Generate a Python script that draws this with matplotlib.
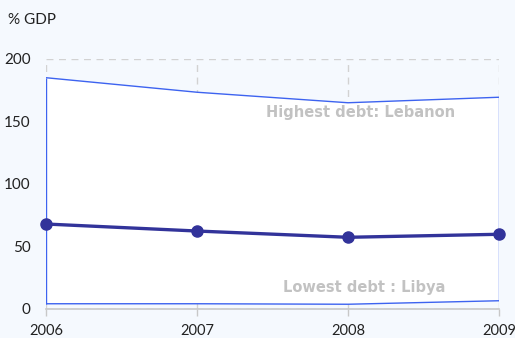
import matplotlib
matplotlib.use('Agg')
import matplotlib.pyplot as plt

# Dette publique (% du PIB) - région MENA
years = [2006, 2007, 2008, 2009]
highest = [184.8, 173.2, 164.8, 169.2]   # Liban
lowest = [4.2, 4.2, 3.8, 6.6]            # Libye
average = [67.9, 62.3, 57.3, 59.7]
y_ticks = [0, 50, 100, 150, 200]

BG = '#f5f9fe'
BAND_EDGE = '#3d63f0'
MEAN_COLOR = '#32339a'
GRID = '#d2d2d2'
NOTE = '#c2c2c2'

plt.rcParams['font.family'] = ['Lato', 'DejaVu Sans']

fig = plt.figure(figsize=(5.15, 3.38), dpi=100, facecolor=BG)
ax = fig.add_axes([46 / 515, 1 - 309 / 338, 453 / 515, 250.3 / 338])
ax.set_facecolor(BG)

# grille pointillée (cachée sous la bande)
for y in y_ticks:
    ax.axhline(y, color=GRID, lw=1, ls=(0, (5, 4)), zorder=0)
for x in years:
    ax.axvline(x, color=GRID, lw=1, ls=(0, (5, 4)), zorder=0)

# bande min / max
ax.fill_between(years, lowest, highest, facecolor='white', edgecolor='none', zorder=1)
ax.plot(years, highest, color=BAND_EDGE, lw=1, zorder=2)
ax.plot(years, lowest, color=BAND_EDGE, lw=1, zorder=2)
ax.vlines([years[0], years[-1]], [lowest[0], lowest[-1]], [highest[0], highest[-1]],
          color=BAND_EDGE, lw=1, zorder=2)

# moyenne
ax.plot(years, average, color=MEAN_COLOR, lw=2.4, marker='o', ms=8,
        zorder=4, clip_on=False)

note_font = dict(color=NOTE, fontsize=10.5, fontweight='bold',
                 family='DejaVu Sans', ha='center', va='center', zorder=3)
ax.text(2008.08, 157, 'Highest debt: Lebanon', **note_font)
ax.text(2008.11, 17.5, 'Lowest debt : Libya', **note_font)

ax.set_xlim(years[0], years[-1])
ax.set_ylim(0, 200)
ax.set_xticks(years)
ax.set_yticks(y_ticks)
ax.tick_params(axis='x', length=5, color='#c8c8c8', width=1, labelsize=10.5,
               labelcolor='#222222', pad=6)
ax.tick_params(axis='y', length=0, labelsize=11, labelcolor='#222222', pad=11)

for side in ['top', 'right', 'left']:
    ax.spines[side].set_visible(False)
ax.spines['bottom'].set_color('#c8c8c8')
ax.spines['bottom'].set_linewidth(1.2)
ax.spines['bottom'].set_zorder(3)

fig.text(8 / 515, 1 - 20 / 338, '% GDP', fontsize=11, color='#222222',
         ha='left', va='center')

fig.savefig('out.png', dpi=100, facecolor=BG)
